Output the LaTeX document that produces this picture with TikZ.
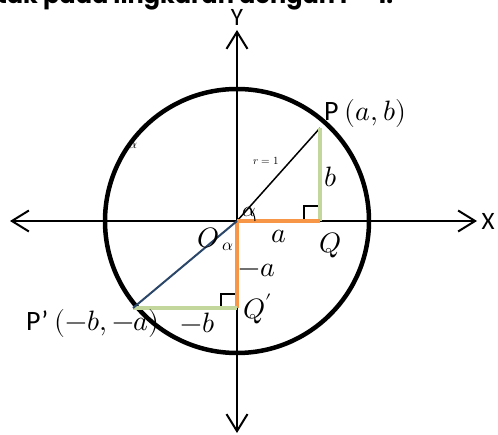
\documentclass[tikz,border=0pt]{standalone}
\usepackage{fontspec}
\usepackage{unicode-math}
\setmainfont{Carlito}
\setmathfont{Latin Modern Math}
\newfontfamily\topfont{Poppins}
\usetikzlibrary{arrows.meta}
\definecolor{orangeL}{HTML}{F79646}
\definecolor{greenL}{HTML}{C3D69B}
\definecolor{navyL}{HTML}{2A4669}
\tikzset{
  axis/.style={line width=2pt,-{Straight Barb[length=17pt,width=21pt]}},
  circ/.style={line width=4.5pt},
  orangeseg/.style={orangeL,line width=3.5pt},
  greenseg/.style={greenL,line width=3.5pt},
  rightang/.style={line width=1.3pt},
  lbl/.style={inner sep=0pt,font=\fontsize{28}{30}\selectfont},
  axlbl/.style={inner sep=0pt,font=\fontsize{25}{27}\selectfont},
}
\begin{document}
\begin{tikzpicture}[x=1pt,y=-1pt]
\useasboundingbox (0,0) rectangle (498,435);
\begin{scope}
\clip (0,0) rectangle (498,435);
\node[anchor=base west,inner sep=0pt,font=\topfont\bfseries\fontsize{24}{26}\selectfont] (title) at (-3,4) {tak pada lingkaran dengan r = 1.};
\end{scope}
% key points
\coordinate (O) at (237,221);
\coordinate (P) at (320,128);
\coordinate (Q) at (320,221);
\coordinate (Pp) at (133,308);
\coordinate (Qp) at (237,308);
\coordinate (xl) at (10,221);
\coordinate (xr) at (477,221);
\coordinate (yt) at (237,30);
\coordinate (yb) at (237,433);
% circle
\draw[circ] (O) circle[radius=132];
% axes
\draw[axis] (O) -- (xl);
\draw[axis] (O) -- (xr);
\draw[axis] (O) -- (yt);
\draw[axis] (O) -- (yb);
\node[axlbl] (X) at (488,221) {X};
\node[axlbl] (Y) at (237,17) {Y};
% right angle marks
\draw[rightang] ([xshift=-16pt]Q) |- ([xshift=-1pt,yshift=15pt]Q);
\draw[rightang] ([xshift=-16pt]Qp) |- ([xshift=-1pt,yshift=14pt]Qp);
% segments
\draw[line width=1.5pt] (O) -- (P);
\draw[greenseg] (Q) -- (P);
\draw[orangeseg] (O) -- (Q);
\draw[orangeseg] (O) -- (Qp);
\draw[greenseg] (Qp) -- (Pp);
\draw[navyL,line width=2pt] (O) -- (Pp);
% angle arc
\draw[line width=1pt] ([xshift=18pt]O) arc[start angle=0,end angle=-46,radius=18];
% labels
\node[lbl,anchor=west] (Plbl) at (324,114) {P $(a,b)$};
\node[lbl] (blbl) at (331,177) {$b$};
\node[lbl] (albl) at (279,236) {$a$};
\node[lbl] (Qlbl) at (331,245) {$Q$};
\node[inner sep=0pt,font=\fontsize{11}{12}\selectfont] (rlbl) at (266,161) {$r=1$};
\node[inner sep=0pt,font=\fontsize{21}{22}\selectfont] (al1) at (249,212) {$\alpha$};
\node[inner sep=0pt,font=\fontsize{17}{18}\selectfont] (al2) at (228,247) {$\alpha$};
\node[inner sep=0pt,font=\fontsize{14}{15}\selectfont] (al3) at (133,145) {$\alpha$};
\node[lbl] (Olbl) at (208,238) {$O$};
\node[lbl] (mal) at (257,270) {$-a$};
\node[lbl] (Qplbl) at (258,309) {$Q'$};
\node[lbl] (mbl) at (198,323) {$-b$};
\node[lbl,anchor=west] (Pplbl) at (26,324) {P’ $(-b,-a)$};
\end{tikzpicture}
\end{document}
